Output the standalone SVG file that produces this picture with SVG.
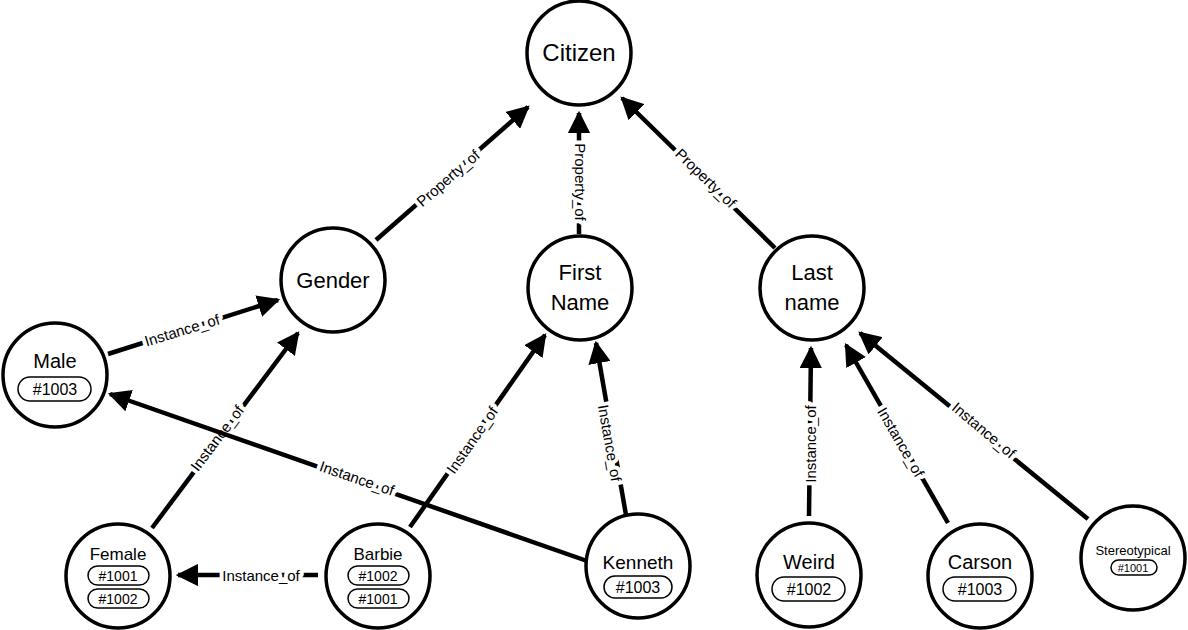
<svg xmlns="http://www.w3.org/2000/svg" width="1188" height="630" viewBox="0 0 1188 630">
<style>
.n{fill:#fff;stroke:#000;stroke-width:3.5}
.t{font-family:"Liberation Sans",Arial,sans-serif;fill:#000;text-anchor:middle}
.b{font-size:22px}
.p{fill:#fff;stroke:#000;stroke-width:1.5}
.s{font-size:16px}
.e{stroke:#000;stroke-width:4.5;fill:none;marker-end:url(#a)}
.l{font-family:"Liberation Sans",Arial,sans-serif;font-size:15px;text-anchor:middle;dominant-baseline:central;fill:#000;stroke:#fff;stroke-width:8;paint-order:stroke;stroke-linejoin:round}
</style>
<defs><marker id="a" viewBox="0 0 10 10" refX="9" refY="5" markerWidth="5" markerHeight="5" orient="auto" markerUnits="strokeWidth"><path d="M0,0L10,5L0,10z" fill="#000"/></marker></defs>
<g id="edges">
<line class="e" x1="376" y1="240" x2="528" y2="107"/>
<text class="l" transform="translate(448,178) rotate(-41)">Property_of</text>
<line class="e" x1="579" y1="234" x2="579" y2="113"/>
<text class="l" transform="translate(580,182) rotate(90)">Property_of</text>
<line class="e" x1="775" y1="248" x2="622" y2="98"/>
<text class="l" transform="translate(706,178) rotate(44)">Property_of</text>
<line class="e" x1="108" y1="354" x2="278" y2="300"/>
<text class="l" transform="translate(182,330) rotate(-17)">Instance_of</text>
<line class="e" x1="152" y1="528" x2="298" y2="333"/>
<text class="l" transform="translate(217,438) rotate(-53)">Instance_of</text>
<line class="e" x1="590" y1="562" x2="110" y2="394"/>
<text class="l" transform="translate(357,478) rotate(19)">Instance_of</text>
<line class="e" x1="318" y1="575" x2="178" y2="575"/>
<text class="l" transform="translate(261,575)">Instance_of</text>
<line class="e" x1="410" y1="527" x2="545" y2="335"/>
<text class="l" transform="translate(472,440) rotate(-55)">Instance_of</text>
<line class="e" x1="626" y1="515" x2="596" y2="343"/>
<text class="l" transform="translate(610,443) rotate(80)">Instance_of</text>
<line class="e" x1="809" y1="516" x2="811" y2="348"/>
<text class="l" transform="translate(810,444) rotate(-90)">Instance_of</text>
<line class="e" x1="948" y1="523" x2="846" y2="345"/>
<text class="l" transform="translate(901,442) rotate(60)">Instance_of</text>
<line class="e" x1="1088" y1="519" x2="860" y2="333"/>
<text class="l" transform="translate(984,430) rotate(40)">Instance_of</text>
</g>
<g id="citizen"><circle class="n" cx="579" cy="53" r="52"/><text class="t" x="579" y="61" font-size="24">Citizen</text></g>
<g id="gender"><circle class="n" cx="333" cy="280" r="52"/><text class="t b" x="333" y="288">Gender</text></g>
<g id="firstname"><circle class="n" cx="580" cy="288" r="52"/><text class="t b" x="580" y="280">First</text><text class="t b" x="580" y="310">Name</text></g>
<g id="lastname"><circle class="n" cx="812" cy="288" r="52"/><text class="t b" x="812" y="280">Last</text><text class="t b" x="812" y="310">name</text></g>
<g id="male"><circle class="n" cx="55" cy="375" r="52"/><text class="t" x="55" y="368" font-size="20">Male</text><rect class="p" x="18" y="377" width="73" height="24" rx="12"/><text class="t s" x="55" y="395">#1003</text></g>
<g id="female"><circle class="n" cx="118" cy="576" r="52"/><text class="t" x="118" y="560" font-size="17">Female</text><rect class="p" x="88" y="566" width="61" height="19" rx="9.5"/><text class="t" x="118" y="581" font-size="14">#1001</text><rect class="p" x="88" y="589" width="61" height="19" rx="9.5"/><text class="t" x="118" y="604" font-size="14">#1002</text></g>
<g id="barbie"><circle class="n" cx="378" cy="576" r="52"/><text class="t" x="378" y="560" font-size="17">Barbie</text><rect class="p" x="348" y="566" width="61" height="19" rx="9.5"/><text class="t" x="378" y="581" font-size="14">#1002</text><rect class="p" x="348" y="589" width="61" height="19" rx="9.5"/><text class="t" x="378" y="604" font-size="14">#1001</text></g>
<g id="kenneth"><circle class="n" cx="638" cy="566" r="52"/><text class="t" x="638" y="569" font-size="19">Kenneth</text><rect class="p" x="604" y="576" width="68" height="22" rx="11"/><text class="t s" x="638" y="593">#1003</text></g>
<g id="weird"><circle class="n" cx="809" cy="575" r="52"/><text class="t" x="809" y="569" font-size="20">Weird</text><rect class="p" x="772" y="577" width="73" height="24" rx="12"/><text class="t s" x="809" y="595">#1002</text></g>
<g id="carson"><circle class="n" cx="980" cy="576" r="52"/><text class="t" x="980" y="569" font-size="20">Carson</text><rect class="p" x="943" y="577" width="73" height="24" rx="12"/><text class="t s" x="980" y="595">#1003</text></g>
<g id="stereotypical"><circle class="n" cx="1133" cy="558" r="52"/><text class="t" x="1133" y="555" font-size="13">Stereotypical</text><rect class="p" x="1111" y="560" width="46" height="15" rx="7.5"/><text class="t" x="1133" y="572" font-size="11">#1001</text></g>
</svg>
